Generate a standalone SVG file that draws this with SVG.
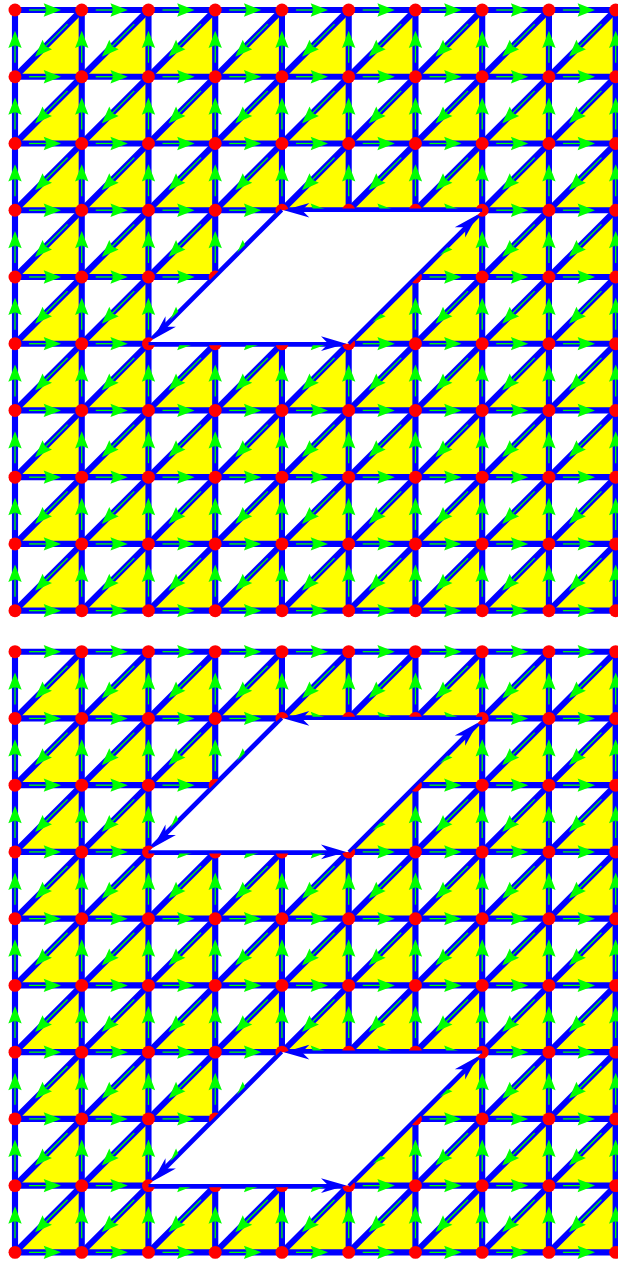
<svg xmlns="http://www.w3.org/2000/svg" width="618" height="1261" viewBox="0 0 618 1261">
<style>
.b{stroke:#00f;stroke-width:9.2}
.g{stroke:#0f0;stroke-width:1.9}
.ga{fill:#0f0}
circle{fill:#f00}
.hole{fill:#fff}
.be{stroke:#00f;stroke-width:5}
.ba{fill:#00f}
</style>
<defs>
<pattern id="tp" width="100" height="100" patternUnits="userSpaceOnUse"><path d="M100,0V100H0Z" fill="#ff0"/></pattern>
<g id="h"><line class="b" x1="0" y1="0" x2="100" y2="0"/><line class="g" x1="21" y1="0" x2="47" y2="0"/><path class="ga" d="M69,0L43,-10L47,0L43,10Z"/></g>
<g id="v"><line class="b" x1="0" y1="0" x2="0" y2="100"/><line class="g" x1="0" y1="79" x2="0" y2="53"/><path class="ga" d="M0,31L-10,57L0,53L10,57Z"/></g>
<g id="d"><line class="b" x1="100" y1="0" x2="0" y2="100"/><line class="g" x1="78.79" y1="21.21" x2="45.55" y2="54.45"/><path class="ga" d="M30,70L55.45,58.69L45.55,54.45L41.31,44.55Z"/></g>
<path id="ba" class="ba" d="M0,0L-38,-11L-27,0L-38,11Z"/>
</defs>
<rect width="618" height="1261" fill="#fff"/>

<g id="gridA" transform="translate(15,10) scale(0.6674)">
<rect width="900" height="900" fill="url(#tp)"/>
<g id="connectorsA">
<use href="#h" x="0" y="0"/><use href="#h" x="100" y="0"/><use href="#h" x="200" y="0"/><use href="#h" x="300" y="0"/><use href="#h" x="400" y="0"/><use href="#h" x="500" y="0"/><use href="#h" x="600" y="0"/><use href="#h" x="700" y="0"/><use href="#h" x="800" y="0"/>
<use href="#h" x="0" y="100"/><use href="#h" x="100" y="100"/><use href="#h" x="200" y="100"/><use href="#h" x="300" y="100"/><use href="#h" x="400" y="100"/><use href="#h" x="500" y="100"/><use href="#h" x="600" y="100"/><use href="#h" x="700" y="100"/><use href="#h" x="800" y="100"/>
<use href="#h" x="0" y="200"/><use href="#h" x="100" y="200"/><use href="#h" x="200" y="200"/><use href="#h" x="300" y="200"/><use href="#h" x="400" y="200"/><use href="#h" x="500" y="200"/><use href="#h" x="600" y="200"/><use href="#h" x="700" y="200"/><use href="#h" x="800" y="200"/>
<use href="#h" x="0" y="300"/><use href="#h" x="100" y="300"/><use href="#h" x="200" y="300"/><use href="#h" x="300" y="300"/><use href="#h" x="400" y="300"/><use href="#h" x="500" y="300"/><use href="#h" x="600" y="300"/><use href="#h" x="700" y="300"/><use href="#h" x="800" y="300"/>
<use href="#h" x="0" y="400"/><use href="#h" x="100" y="400"/><use href="#h" x="200" y="400"/><use href="#h" x="300" y="400"/><use href="#h" x="400" y="400"/><use href="#h" x="500" y="400"/><use href="#h" x="600" y="400"/><use href="#h" x="700" y="400"/><use href="#h" x="800" y="400"/>
<use href="#h" x="0" y="500"/><use href="#h" x="100" y="500"/><use href="#h" x="200" y="500"/><use href="#h" x="300" y="500"/><use href="#h" x="400" y="500"/><use href="#h" x="500" y="500"/><use href="#h" x="600" y="500"/><use href="#h" x="700" y="500"/><use href="#h" x="800" y="500"/>
<use href="#h" x="0" y="600"/><use href="#h" x="100" y="600"/><use href="#h" x="200" y="600"/><use href="#h" x="300" y="600"/><use href="#h" x="400" y="600"/><use href="#h" x="500" y="600"/><use href="#h" x="600" y="600"/><use href="#h" x="700" y="600"/><use href="#h" x="800" y="600"/>
<use href="#h" x="0" y="700"/><use href="#h" x="100" y="700"/><use href="#h" x="200" y="700"/><use href="#h" x="300" y="700"/><use href="#h" x="400" y="700"/><use href="#h" x="500" y="700"/><use href="#h" x="600" y="700"/><use href="#h" x="700" y="700"/><use href="#h" x="800" y="700"/>
<use href="#h" x="0" y="800"/><use href="#h" x="100" y="800"/><use href="#h" x="200" y="800"/><use href="#h" x="300" y="800"/><use href="#h" x="400" y="800"/><use href="#h" x="500" y="800"/><use href="#h" x="600" y="800"/><use href="#h" x="700" y="800"/><use href="#h" x="800" y="800"/>
<use href="#h" x="0" y="900"/><use href="#h" x="100" y="900"/><use href="#h" x="200" y="900"/><use href="#h" x="300" y="900"/><use href="#h" x="400" y="900"/><use href="#h" x="500" y="900"/><use href="#h" x="600" y="900"/><use href="#h" x="700" y="900"/><use href="#h" x="800" y="900"/>
<use href="#v" x="0" y="0"/><use href="#v" x="100" y="0"/><use href="#v" x="200" y="0"/><use href="#v" x="300" y="0"/><use href="#v" x="400" y="0"/><use href="#v" x="500" y="0"/><use href="#v" x="600" y="0"/><use href="#v" x="700" y="0"/><use href="#v" x="800" y="0"/><use href="#v" x="900" y="0"/>
<use href="#v" x="0" y="100"/><use href="#v" x="100" y="100"/><use href="#v" x="200" y="100"/><use href="#v" x="300" y="100"/><use href="#v" x="400" y="100"/><use href="#v" x="500" y="100"/><use href="#v" x="600" y="100"/><use href="#v" x="700" y="100"/><use href="#v" x="800" y="100"/><use href="#v" x="900" y="100"/>
<use href="#v" x="0" y="200"/><use href="#v" x="100" y="200"/><use href="#v" x="200" y="200"/><use href="#v" x="300" y="200"/><use href="#v" x="400" y="200"/><use href="#v" x="500" y="200"/><use href="#v" x="600" y="200"/><use href="#v" x="700" y="200"/><use href="#v" x="800" y="200"/><use href="#v" x="900" y="200"/>
<use href="#v" x="0" y="300"/><use href="#v" x="100" y="300"/><use href="#v" x="200" y="300"/><use href="#v" x="300" y="300"/><use href="#v" x="400" y="300"/><use href="#v" x="500" y="300"/><use href="#v" x="600" y="300"/><use href="#v" x="700" y="300"/><use href="#v" x="800" y="300"/><use href="#v" x="900" y="300"/>
<use href="#v" x="0" y="400"/><use href="#v" x="100" y="400"/><use href="#v" x="200" y="400"/><use href="#v" x="300" y="400"/><use href="#v" x="400" y="400"/><use href="#v" x="500" y="400"/><use href="#v" x="600" y="400"/><use href="#v" x="700" y="400"/><use href="#v" x="800" y="400"/><use href="#v" x="900" y="400"/>
<use href="#v" x="0" y="500"/><use href="#v" x="100" y="500"/><use href="#v" x="200" y="500"/><use href="#v" x="300" y="500"/><use href="#v" x="400" y="500"/><use href="#v" x="500" y="500"/><use href="#v" x="600" y="500"/><use href="#v" x="700" y="500"/><use href="#v" x="800" y="500"/><use href="#v" x="900" y="500"/>
<use href="#v" x="0" y="600"/><use href="#v" x="100" y="600"/><use href="#v" x="200" y="600"/><use href="#v" x="300" y="600"/><use href="#v" x="400" y="600"/><use href="#v" x="500" y="600"/><use href="#v" x="600" y="600"/><use href="#v" x="700" y="600"/><use href="#v" x="800" y="600"/><use href="#v" x="900" y="600"/>
<use href="#v" x="0" y="700"/><use href="#v" x="100" y="700"/><use href="#v" x="200" y="700"/><use href="#v" x="300" y="700"/><use href="#v" x="400" y="700"/><use href="#v" x="500" y="700"/><use href="#v" x="600" y="700"/><use href="#v" x="700" y="700"/><use href="#v" x="800" y="700"/><use href="#v" x="900" y="700"/>
<use href="#v" x="0" y="800"/><use href="#v" x="100" y="800"/><use href="#v" x="200" y="800"/><use href="#v" x="300" y="800"/><use href="#v" x="400" y="800"/><use href="#v" x="500" y="800"/><use href="#v" x="600" y="800"/><use href="#v" x="700" y="800"/><use href="#v" x="800" y="800"/><use href="#v" x="900" y="800"/>
<use href="#d" x="0" y="0"/><use href="#d" x="100" y="0"/><use href="#d" x="200" y="0"/><use href="#d" x="300" y="0"/><use href="#d" x="400" y="0"/><use href="#d" x="500" y="0"/><use href="#d" x="600" y="0"/><use href="#d" x="700" y="0"/><use href="#d" x="800" y="0"/>
<use href="#d" x="0" y="100"/><use href="#d" x="100" y="100"/><use href="#d" x="200" y="100"/><use href="#d" x="300" y="100"/><use href="#d" x="400" y="100"/><use href="#d" x="500" y="100"/><use href="#d" x="600" y="100"/><use href="#d" x="700" y="100"/><use href="#d" x="800" y="100"/>
<use href="#d" x="0" y="200"/><use href="#d" x="100" y="200"/><use href="#d" x="200" y="200"/><use href="#d" x="300" y="200"/><use href="#d" x="400" y="200"/><use href="#d" x="500" y="200"/><use href="#d" x="600" y="200"/><use href="#d" x="700" y="200"/><use href="#d" x="800" y="200"/>
<use href="#d" x="0" y="300"/><use href="#d" x="100" y="300"/><use href="#d" x="200" y="300"/><use href="#d" x="300" y="300"/><use href="#d" x="400" y="300"/><use href="#d" x="500" y="300"/><use href="#d" x="600" y="300"/><use href="#d" x="700" y="300"/><use href="#d" x="800" y="300"/>
<use href="#d" x="0" y="400"/><use href="#d" x="100" y="400"/><use href="#d" x="200" y="400"/><use href="#d" x="300" y="400"/><use href="#d" x="400" y="400"/><use href="#d" x="500" y="400"/><use href="#d" x="600" y="400"/><use href="#d" x="700" y="400"/><use href="#d" x="800" y="400"/>
<use href="#d" x="0" y="500"/><use href="#d" x="100" y="500"/><use href="#d" x="200" y="500"/><use href="#d" x="300" y="500"/><use href="#d" x="400" y="500"/><use href="#d" x="500" y="500"/><use href="#d" x="600" y="500"/><use href="#d" x="700" y="500"/><use href="#d" x="800" y="500"/>
<use href="#d" x="0" y="600"/><use href="#d" x="100" y="600"/><use href="#d" x="200" y="600"/><use href="#d" x="300" y="600"/><use href="#d" x="400" y="600"/><use href="#d" x="500" y="600"/><use href="#d" x="600" y="600"/><use href="#d" x="700" y="600"/><use href="#d" x="800" y="600"/>
<use href="#d" x="0" y="700"/><use href="#d" x="100" y="700"/><use href="#d" x="200" y="700"/><use href="#d" x="300" y="700"/><use href="#d" x="400" y="700"/><use href="#d" x="500" y="700"/><use href="#d" x="600" y="700"/><use href="#d" x="700" y="700"/><use href="#d" x="800" y="700"/>
<use href="#d" x="0" y="800"/><use href="#d" x="100" y="800"/><use href="#d" x="200" y="800"/><use href="#d" x="300" y="800"/><use href="#d" x="400" y="800"/><use href="#d" x="500" y="800"/><use href="#d" x="600" y="800"/><use href="#d" x="700" y="800"/><use href="#d" x="800" y="800"/>
</g>
<g id="nodesA">
<g id="a00"><circle cx="0" cy="0" r="9.7"/></g><g id="a10"><circle cx="100" cy="0" r="9.7"/></g><g id="a20"><circle cx="200" cy="0" r="9.7"/></g><g id="a30"><circle cx="300" cy="0" r="9.7"/></g><g id="a40"><circle cx="400" cy="0" r="9.7"/></g><g id="a50"><circle cx="500" cy="0" r="9.7"/></g><g id="a60"><circle cx="600" cy="0" r="9.7"/></g><g id="a70"><circle cx="700" cy="0" r="9.7"/></g><g id="a80"><circle cx="800" cy="0" r="9.7"/></g><g id="a90"><circle cx="900" cy="0" r="9.7"/></g>
<g id="a01"><circle cx="0" cy="100" r="9.7"/></g><g id="a11"><circle cx="100" cy="100" r="9.7"/></g><g id="a21"><circle cx="200" cy="100" r="9.7"/></g><g id="a31"><circle cx="300" cy="100" r="9.7"/></g><g id="a41"><circle cx="400" cy="100" r="9.7"/></g><g id="a51"><circle cx="500" cy="100" r="9.7"/></g><g id="a61"><circle cx="600" cy="100" r="9.7"/></g><g id="a71"><circle cx="700" cy="100" r="9.7"/></g><g id="a81"><circle cx="800" cy="100" r="9.7"/></g><g id="a91"><circle cx="900" cy="100" r="9.7"/></g>
<g id="a02"><circle cx="0" cy="200" r="9.7"/></g><g id="a12"><circle cx="100" cy="200" r="9.7"/></g><g id="a22"><circle cx="200" cy="200" r="9.7"/></g><g id="a32"><circle cx="300" cy="200" r="9.7"/></g><g id="a42"><circle cx="400" cy="200" r="9.7"/></g><g id="a52"><circle cx="500" cy="200" r="9.7"/></g><g id="a62"><circle cx="600" cy="200" r="9.7"/></g><g id="a72"><circle cx="700" cy="200" r="9.7"/></g><g id="a82"><circle cx="800" cy="200" r="9.7"/></g><g id="a92"><circle cx="900" cy="200" r="9.7"/></g>
<g id="a03"><circle cx="0" cy="300" r="9.7"/></g><g id="a13"><circle cx="100" cy="300" r="9.7"/></g><g id="a23"><circle cx="200" cy="300" r="9.7"/></g><g id="a33"><circle cx="300" cy="300" r="9.7"/></g><g id="a43"><circle cx="400" cy="300" r="9.7"/></g><g id="a53"><circle cx="500" cy="300" r="9.7"/></g><g id="a63"><circle cx="600" cy="300" r="9.7"/></g><g id="a73"><circle cx="700" cy="300" r="9.7"/></g><g id="a83"><circle cx="800" cy="300" r="9.7"/></g><g id="a93"><circle cx="900" cy="300" r="9.7"/></g>
<g id="a04"><circle cx="0" cy="400" r="9.7"/></g><g id="a14"><circle cx="100" cy="400" r="9.7"/></g><g id="a24"><circle cx="200" cy="400" r="9.7"/></g><g id="a34"><circle cx="300" cy="400" r="9.7"/></g><g id="a44"><circle cx="400" cy="400" r="9.7"/></g><g id="a54"><circle cx="500" cy="400" r="9.7"/></g><g id="a64"><circle cx="600" cy="400" r="9.7"/></g><g id="a74"><circle cx="700" cy="400" r="9.7"/></g><g id="a84"><circle cx="800" cy="400" r="9.7"/></g><g id="a94"><circle cx="900" cy="400" r="9.7"/></g>
<g id="a05"><circle cx="0" cy="500" r="9.7"/></g><g id="a15"><circle cx="100" cy="500" r="9.7"/></g><g id="a25"><circle cx="200" cy="500" r="9.7"/></g><g id="a35"><circle cx="300" cy="500" r="9.7"/></g><g id="a45"><circle cx="400" cy="500" r="9.7"/></g><g id="a55"><circle cx="500" cy="500" r="9.7"/></g><g id="a65"><circle cx="600" cy="500" r="9.7"/></g><g id="a75"><circle cx="700" cy="500" r="9.7"/></g><g id="a85"><circle cx="800" cy="500" r="9.7"/></g><g id="a95"><circle cx="900" cy="500" r="9.7"/></g>
<g id="a06"><circle cx="0" cy="600" r="9.7"/></g><g id="a16"><circle cx="100" cy="600" r="9.7"/></g><g id="a26"><circle cx="200" cy="600" r="9.7"/></g><g id="a36"><circle cx="300" cy="600" r="9.7"/></g><g id="a46"><circle cx="400" cy="600" r="9.7"/></g><g id="a56"><circle cx="500" cy="600" r="9.7"/></g><g id="a66"><circle cx="600" cy="600" r="9.7"/></g><g id="a76"><circle cx="700" cy="600" r="9.7"/></g><g id="a86"><circle cx="800" cy="600" r="9.7"/></g><g id="a96"><circle cx="900" cy="600" r="9.7"/></g>
<g id="a07"><circle cx="0" cy="700" r="9.7"/></g><g id="a17"><circle cx="100" cy="700" r="9.7"/></g><g id="a27"><circle cx="200" cy="700" r="9.7"/></g><g id="a37"><circle cx="300" cy="700" r="9.7"/></g><g id="a47"><circle cx="400" cy="700" r="9.7"/></g><g id="a57"><circle cx="500" cy="700" r="9.7"/></g><g id="a67"><circle cx="600" cy="700" r="9.7"/></g><g id="a77"><circle cx="700" cy="700" r="9.7"/></g><g id="a87"><circle cx="800" cy="700" r="9.7"/></g><g id="a97"><circle cx="900" cy="700" r="9.7"/></g>
<g id="a08"><circle cx="0" cy="800" r="9.7"/></g><g id="a18"><circle cx="100" cy="800" r="9.7"/></g><g id="a28"><circle cx="200" cy="800" r="9.7"/></g><g id="a38"><circle cx="300" cy="800" r="9.7"/></g><g id="a48"><circle cx="400" cy="800" r="9.7"/></g><g id="a58"><circle cx="500" cy="800" r="9.7"/></g><g id="a68"><circle cx="600" cy="800" r="9.7"/></g><g id="a78"><circle cx="700" cy="800" r="9.7"/></g><g id="a88"><circle cx="800" cy="800" r="9.7"/></g><g id="a98"><circle cx="900" cy="800" r="9.7"/></g>
<g id="a09"><circle cx="0" cy="900" r="9.7"/></g><g id="a19"><circle cx="100" cy="900" r="9.7"/></g><g id="a29"><circle cx="200" cy="900" r="9.7"/></g><g id="a39"><circle cx="300" cy="900" r="9.7"/></g><g id="a49"><circle cx="400" cy="900" r="9.7"/></g><g id="a59"><circle cx="500" cy="900" r="9.7"/></g><g id="a69"><circle cx="600" cy="900" r="9.7"/></g><g id="a79"><circle cx="700" cy="900" r="9.7"/></g><g id="a89"><circle cx="800" cy="900" r="9.7"/></g><g id="a99"><circle cx="900" cy="900" r="9.7"/></g>
</g>
<g id="holeA">
<path class="hole" d="M400,300H700L500,500H200Z"/>
<line class="be" x1="700" y1="300" x2="420" y2="300"/>
<use href="#ba" transform="translate(403,300) rotate(180)"/>
<line class="be" x1="400" y1="300" x2="217" y2="483"/>
<use href="#ba" transform="translate(206.4,493.6) rotate(135)"/>
<line class="be" x1="200" y1="500" x2="480" y2="500"/>
<use href="#ba" transform="translate(496.5,500)"/>
<line class="be" x1="500" y1="500" x2="683" y2="317"/>
<use href="#ba" transform="translate(693.6,306.4) rotate(-45)"/>
</g>
</g>

<g id="gridB" transform="translate(15,651.7) scale(0.6674)">
<rect width="900" height="900" fill="url(#tp)"/>
<g id="connectorsB">
<use href="#h" x="0" y="0"/><use href="#h" x="100" y="0"/><use href="#h" x="200" y="0"/><use href="#h" x="300" y="0"/><use href="#h" x="400" y="0"/><use href="#h" x="500" y="0"/><use href="#h" x="600" y="0"/><use href="#h" x="700" y="0"/><use href="#h" x="800" y="0"/>
<use href="#h" x="0" y="100"/><use href="#h" x="100" y="100"/><use href="#h" x="200" y="100"/><use href="#h" x="300" y="100"/><use href="#h" x="400" y="100"/><use href="#h" x="500" y="100"/><use href="#h" x="600" y="100"/><use href="#h" x="700" y="100"/><use href="#h" x="800" y="100"/>
<use href="#h" x="0" y="200"/><use href="#h" x="100" y="200"/><use href="#h" x="200" y="200"/><use href="#h" x="300" y="200"/><use href="#h" x="400" y="200"/><use href="#h" x="500" y="200"/><use href="#h" x="600" y="200"/><use href="#h" x="700" y="200"/><use href="#h" x="800" y="200"/>
<use href="#h" x="0" y="300"/><use href="#h" x="100" y="300"/><use href="#h" x="200" y="300"/><use href="#h" x="300" y="300"/><use href="#h" x="400" y="300"/><use href="#h" x="500" y="300"/><use href="#h" x="600" y="300"/><use href="#h" x="700" y="300"/><use href="#h" x="800" y="300"/>
<use href="#h" x="0" y="400"/><use href="#h" x="100" y="400"/><use href="#h" x="200" y="400"/><use href="#h" x="300" y="400"/><use href="#h" x="400" y="400"/><use href="#h" x="500" y="400"/><use href="#h" x="600" y="400"/><use href="#h" x="700" y="400"/><use href="#h" x="800" y="400"/>
<use href="#h" x="0" y="500"/><use href="#h" x="100" y="500"/><use href="#h" x="200" y="500"/><use href="#h" x="300" y="500"/><use href="#h" x="400" y="500"/><use href="#h" x="500" y="500"/><use href="#h" x="600" y="500"/><use href="#h" x="700" y="500"/><use href="#h" x="800" y="500"/>
<use href="#h" x="0" y="600"/><use href="#h" x="100" y="600"/><use href="#h" x="200" y="600"/><use href="#h" x="300" y="600"/><use href="#h" x="400" y="600"/><use href="#h" x="500" y="600"/><use href="#h" x="600" y="600"/><use href="#h" x="700" y="600"/><use href="#h" x="800" y="600"/>
<use href="#h" x="0" y="700"/><use href="#h" x="100" y="700"/><use href="#h" x="200" y="700"/><use href="#h" x="300" y="700"/><use href="#h" x="400" y="700"/><use href="#h" x="500" y="700"/><use href="#h" x="600" y="700"/><use href="#h" x="700" y="700"/><use href="#h" x="800" y="700"/>
<use href="#h" x="0" y="800"/><use href="#h" x="100" y="800"/><use href="#h" x="200" y="800"/><use href="#h" x="300" y="800"/><use href="#h" x="400" y="800"/><use href="#h" x="500" y="800"/><use href="#h" x="600" y="800"/><use href="#h" x="700" y="800"/><use href="#h" x="800" y="800"/>
<use href="#h" x="0" y="900"/><use href="#h" x="100" y="900"/><use href="#h" x="200" y="900"/><use href="#h" x="300" y="900"/><use href="#h" x="400" y="900"/><use href="#h" x="500" y="900"/><use href="#h" x="600" y="900"/><use href="#h" x="700" y="900"/><use href="#h" x="800" y="900"/>
<use href="#v" x="0" y="0"/><use href="#v" x="100" y="0"/><use href="#v" x="200" y="0"/><use href="#v" x="300" y="0"/><use href="#v" x="400" y="0"/><use href="#v" x="500" y="0"/><use href="#v" x="600" y="0"/><use href="#v" x="700" y="0"/><use href="#v" x="800" y="0"/><use href="#v" x="900" y="0"/>
<use href="#v" x="0" y="100"/><use href="#v" x="100" y="100"/><use href="#v" x="200" y="100"/><use href="#v" x="300" y="100"/><use href="#v" x="400" y="100"/><use href="#v" x="500" y="100"/><use href="#v" x="600" y="100"/><use href="#v" x="700" y="100"/><use href="#v" x="800" y="100"/><use href="#v" x="900" y="100"/>
<use href="#v" x="0" y="200"/><use href="#v" x="100" y="200"/><use href="#v" x="200" y="200"/><use href="#v" x="300" y="200"/><use href="#v" x="400" y="200"/><use href="#v" x="500" y="200"/><use href="#v" x="600" y="200"/><use href="#v" x="700" y="200"/><use href="#v" x="800" y="200"/><use href="#v" x="900" y="200"/>
<use href="#v" x="0" y="300"/><use href="#v" x="100" y="300"/><use href="#v" x="200" y="300"/><use href="#v" x="300" y="300"/><use href="#v" x="400" y="300"/><use href="#v" x="500" y="300"/><use href="#v" x="600" y="300"/><use href="#v" x="700" y="300"/><use href="#v" x="800" y="300"/><use href="#v" x="900" y="300"/>
<use href="#v" x="0" y="400"/><use href="#v" x="100" y="400"/><use href="#v" x="200" y="400"/><use href="#v" x="300" y="400"/><use href="#v" x="400" y="400"/><use href="#v" x="500" y="400"/><use href="#v" x="600" y="400"/><use href="#v" x="700" y="400"/><use href="#v" x="800" y="400"/><use href="#v" x="900" y="400"/>
<use href="#v" x="0" y="500"/><use href="#v" x="100" y="500"/><use href="#v" x="200" y="500"/><use href="#v" x="300" y="500"/><use href="#v" x="400" y="500"/><use href="#v" x="500" y="500"/><use href="#v" x="600" y="500"/><use href="#v" x="700" y="500"/><use href="#v" x="800" y="500"/><use href="#v" x="900" y="500"/>
<use href="#v" x="0" y="600"/><use href="#v" x="100" y="600"/><use href="#v" x="200" y="600"/><use href="#v" x="300" y="600"/><use href="#v" x="400" y="600"/><use href="#v" x="500" y="600"/><use href="#v" x="600" y="600"/><use href="#v" x="700" y="600"/><use href="#v" x="800" y="600"/><use href="#v" x="900" y="600"/>
<use href="#v" x="0" y="700"/><use href="#v" x="100" y="700"/><use href="#v" x="200" y="700"/><use href="#v" x="300" y="700"/><use href="#v" x="400" y="700"/><use href="#v" x="500" y="700"/><use href="#v" x="600" y="700"/><use href="#v" x="700" y="700"/><use href="#v" x="800" y="700"/><use href="#v" x="900" y="700"/>
<use href="#v" x="0" y="800"/><use href="#v" x="100" y="800"/><use href="#v" x="200" y="800"/><use href="#v" x="300" y="800"/><use href="#v" x="400" y="800"/><use href="#v" x="500" y="800"/><use href="#v" x="600" y="800"/><use href="#v" x="700" y="800"/><use href="#v" x="800" y="800"/><use href="#v" x="900" y="800"/>
<use href="#d" x="0" y="0"/><use href="#d" x="100" y="0"/><use href="#d" x="200" y="0"/><use href="#d" x="300" y="0"/><use href="#d" x="400" y="0"/><use href="#d" x="500" y="0"/><use href="#d" x="600" y="0"/><use href="#d" x="700" y="0"/><use href="#d" x="800" y="0"/>
<use href="#d" x="0" y="100"/><use href="#d" x="100" y="100"/><use href="#d" x="200" y="100"/><use href="#d" x="300" y="100"/><use href="#d" x="400" y="100"/><use href="#d" x="500" y="100"/><use href="#d" x="600" y="100"/><use href="#d" x="700" y="100"/><use href="#d" x="800" y="100"/>
<use href="#d" x="0" y="200"/><use href="#d" x="100" y="200"/><use href="#d" x="200" y="200"/><use href="#d" x="300" y="200"/><use href="#d" x="400" y="200"/><use href="#d" x="500" y="200"/><use href="#d" x="600" y="200"/><use href="#d" x="700" y="200"/><use href="#d" x="800" y="200"/>
<use href="#d" x="0" y="300"/><use href="#d" x="100" y="300"/><use href="#d" x="200" y="300"/><use href="#d" x="300" y="300"/><use href="#d" x="400" y="300"/><use href="#d" x="500" y="300"/><use href="#d" x="600" y="300"/><use href="#d" x="700" y="300"/><use href="#d" x="800" y="300"/>
<use href="#d" x="0" y="400"/><use href="#d" x="100" y="400"/><use href="#d" x="200" y="400"/><use href="#d" x="300" y="400"/><use href="#d" x="400" y="400"/><use href="#d" x="500" y="400"/><use href="#d" x="600" y="400"/><use href="#d" x="700" y="400"/><use href="#d" x="800" y="400"/>
<use href="#d" x="0" y="500"/><use href="#d" x="100" y="500"/><use href="#d" x="200" y="500"/><use href="#d" x="300" y="500"/><use href="#d" x="400" y="500"/><use href="#d" x="500" y="500"/><use href="#d" x="600" y="500"/><use href="#d" x="700" y="500"/><use href="#d" x="800" y="500"/>
<use href="#d" x="0" y="600"/><use href="#d" x="100" y="600"/><use href="#d" x="200" y="600"/><use href="#d" x="300" y="600"/><use href="#d" x="400" y="600"/><use href="#d" x="500" y="600"/><use href="#d" x="600" y="600"/><use href="#d" x="700" y="600"/><use href="#d" x="800" y="600"/>
<use href="#d" x="0" y="700"/><use href="#d" x="100" y="700"/><use href="#d" x="200" y="700"/><use href="#d" x="300" y="700"/><use href="#d" x="400" y="700"/><use href="#d" x="500" y="700"/><use href="#d" x="600" y="700"/><use href="#d" x="700" y="700"/><use href="#d" x="800" y="700"/>
<use href="#d" x="0" y="800"/><use href="#d" x="100" y="800"/><use href="#d" x="200" y="800"/><use href="#d" x="300" y="800"/><use href="#d" x="400" y="800"/><use href="#d" x="500" y="800"/><use href="#d" x="600" y="800"/><use href="#d" x="700" y="800"/><use href="#d" x="800" y="800"/>
</g>
<g id="nodesB">
<g id="b00"><circle cx="0" cy="0" r="9.7"/></g><g id="b10"><circle cx="100" cy="0" r="9.7"/></g><g id="b20"><circle cx="200" cy="0" r="9.7"/></g><g id="b30"><circle cx="300" cy="0" r="9.7"/></g><g id="b40"><circle cx="400" cy="0" r="9.7"/></g><g id="b50"><circle cx="500" cy="0" r="9.7"/></g><g id="b60"><circle cx="600" cy="0" r="9.7"/></g><g id="b70"><circle cx="700" cy="0" r="9.7"/></g><g id="b80"><circle cx="800" cy="0" r="9.7"/></g><g id="b90"><circle cx="900" cy="0" r="9.7"/></g>
<g id="b01"><circle cx="0" cy="100" r="9.7"/></g><g id="b11"><circle cx="100" cy="100" r="9.7"/></g><g id="b21"><circle cx="200" cy="100" r="9.7"/></g><g id="b31"><circle cx="300" cy="100" r="9.7"/></g><g id="b41"><circle cx="400" cy="100" r="9.7"/></g><g id="b51"><circle cx="500" cy="100" r="9.7"/></g><g id="b61"><circle cx="600" cy="100" r="9.7"/></g><g id="b71"><circle cx="700" cy="100" r="9.7"/></g><g id="b81"><circle cx="800" cy="100" r="9.7"/></g><g id="b91"><circle cx="900" cy="100" r="9.7"/></g>
<g id="b02"><circle cx="0" cy="200" r="9.7"/></g><g id="b12"><circle cx="100" cy="200" r="9.7"/></g><g id="b22"><circle cx="200" cy="200" r="9.7"/></g><g id="b32"><circle cx="300" cy="200" r="9.7"/></g><g id="b42"><circle cx="400" cy="200" r="9.7"/></g><g id="b52"><circle cx="500" cy="200" r="9.7"/></g><g id="b62"><circle cx="600" cy="200" r="9.7"/></g><g id="b72"><circle cx="700" cy="200" r="9.7"/></g><g id="b82"><circle cx="800" cy="200" r="9.7"/></g><g id="b92"><circle cx="900" cy="200" r="9.7"/></g>
<g id="b03"><circle cx="0" cy="300" r="9.7"/></g><g id="b13"><circle cx="100" cy="300" r="9.7"/></g><g id="b23"><circle cx="200" cy="300" r="9.7"/></g><g id="b33"><circle cx="300" cy="300" r="9.7"/></g><g id="b43"><circle cx="400" cy="300" r="9.7"/></g><g id="b53"><circle cx="500" cy="300" r="9.7"/></g><g id="b63"><circle cx="600" cy="300" r="9.7"/></g><g id="b73"><circle cx="700" cy="300" r="9.7"/></g><g id="b83"><circle cx="800" cy="300" r="9.7"/></g><g id="b93"><circle cx="900" cy="300" r="9.7"/></g>
<g id="b04"><circle cx="0" cy="400" r="9.7"/></g><g id="b14"><circle cx="100" cy="400" r="9.7"/></g><g id="b24"><circle cx="200" cy="400" r="9.7"/></g><g id="b34"><circle cx="300" cy="400" r="9.7"/></g><g id="b44"><circle cx="400" cy="400" r="9.7"/></g><g id="b54"><circle cx="500" cy="400" r="9.7"/></g><g id="b64"><circle cx="600" cy="400" r="9.7"/></g><g id="b74"><circle cx="700" cy="400" r="9.7"/></g><g id="b84"><circle cx="800" cy="400" r="9.7"/></g><g id="b94"><circle cx="900" cy="400" r="9.7"/></g>
<g id="b05"><circle cx="0" cy="500" r="9.7"/></g><g id="b15"><circle cx="100" cy="500" r="9.7"/></g><g id="b25"><circle cx="200" cy="500" r="9.7"/></g><g id="b35"><circle cx="300" cy="500" r="9.7"/></g><g id="b45"><circle cx="400" cy="500" r="9.7"/></g><g id="b55"><circle cx="500" cy="500" r="9.7"/></g><g id="b65"><circle cx="600" cy="500" r="9.7"/></g><g id="b75"><circle cx="700" cy="500" r="9.7"/></g><g id="b85"><circle cx="800" cy="500" r="9.7"/></g><g id="b95"><circle cx="900" cy="500" r="9.7"/></g>
<g id="b06"><circle cx="0" cy="600" r="9.7"/></g><g id="b16"><circle cx="100" cy="600" r="9.7"/></g><g id="b26"><circle cx="200" cy="600" r="9.7"/></g><g id="b36"><circle cx="300" cy="600" r="9.7"/></g><g id="b46"><circle cx="400" cy="600" r="9.7"/></g><g id="b56"><circle cx="500" cy="600" r="9.7"/></g><g id="b66"><circle cx="600" cy="600" r="9.7"/></g><g id="b76"><circle cx="700" cy="600" r="9.7"/></g><g id="b86"><circle cx="800" cy="600" r="9.7"/></g><g id="b96"><circle cx="900" cy="600" r="9.7"/></g>
<g id="b07"><circle cx="0" cy="700" r="9.7"/></g><g id="b17"><circle cx="100" cy="700" r="9.7"/></g><g id="b27"><circle cx="200" cy="700" r="9.7"/></g><g id="b37"><circle cx="300" cy="700" r="9.7"/></g><g id="b47"><circle cx="400" cy="700" r="9.7"/></g><g id="b57"><circle cx="500" cy="700" r="9.7"/></g><g id="b67"><circle cx="600" cy="700" r="9.7"/></g><g id="b77"><circle cx="700" cy="700" r="9.7"/></g><g id="b87"><circle cx="800" cy="700" r="9.7"/></g><g id="b97"><circle cx="900" cy="700" r="9.7"/></g>
<g id="b08"><circle cx="0" cy="800" r="9.7"/></g><g id="b18"><circle cx="100" cy="800" r="9.7"/></g><g id="b28"><circle cx="200" cy="800" r="9.7"/></g><g id="b38"><circle cx="300" cy="800" r="9.7"/></g><g id="b48"><circle cx="400" cy="800" r="9.7"/></g><g id="b58"><circle cx="500" cy="800" r="9.7"/></g><g id="b68"><circle cx="600" cy="800" r="9.7"/></g><g id="b78"><circle cx="700" cy="800" r="9.7"/></g><g id="b88"><circle cx="800" cy="800" r="9.7"/></g><g id="b98"><circle cx="900" cy="800" r="9.7"/></g>
<g id="b09"><circle cx="0" cy="900" r="9.7"/></g><g id="b19"><circle cx="100" cy="900" r="9.7"/></g><g id="b29"><circle cx="200" cy="900" r="9.7"/></g><g id="b39"><circle cx="300" cy="900" r="9.7"/></g><g id="b49"><circle cx="400" cy="900" r="9.7"/></g><g id="b59"><circle cx="500" cy="900" r="9.7"/></g><g id="b69"><circle cx="600" cy="900" r="9.7"/></g><g id="b79"><circle cx="700" cy="900" r="9.7"/></g><g id="b89"><circle cx="800" cy="900" r="9.7"/></g><g id="b99"><circle cx="900" cy="900" r="9.7"/></g>
</g>
<g id="holeB1">
<path class="hole" d="M400,100H700L500,300H200Z"/>
<line class="be" x1="700" y1="100" x2="420" y2="100"/>
<use href="#ba" transform="translate(403,100) rotate(180)"/>
<line class="be" x1="400" y1="100" x2="217" y2="283"/>
<use href="#ba" transform="translate(206.4,293.6) rotate(135)"/>
<line class="be" x1="200" y1="300" x2="480" y2="300"/>
<use href="#ba" transform="translate(496.5,300)"/>
<line class="be" x1="500" y1="300" x2="683" y2="117"/>
<use href="#ba" transform="translate(693.6,106.4) rotate(-45)"/>
</g>
<g id="holeB2">
<path class="hole" d="M400,600H700L500,800H200Z"/>
<line class="be" x1="700" y1="600" x2="420" y2="600"/>
<use href="#ba" transform="translate(403,600) rotate(180)"/>
<line class="be" x1="400" y1="600" x2="217" y2="783"/>
<use href="#ba" transform="translate(206.4,793.6) rotate(135)"/>
<line class="be" x1="200" y1="800" x2="480" y2="800"/>
<use href="#ba" transform="translate(496.5,800)"/>
<line class="be" x1="500" y1="800" x2="683" y2="617"/>
<use href="#ba" transform="translate(693.6,606.4) rotate(-45)"/>
</g>
</g>
</svg>
